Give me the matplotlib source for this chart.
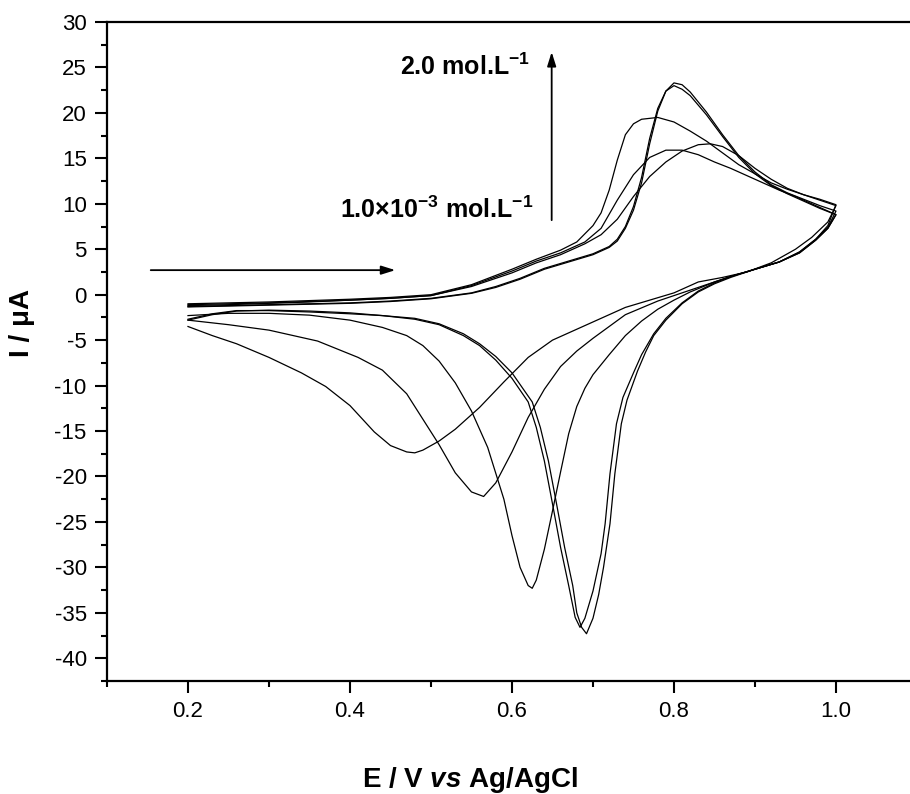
import numpy as np
import matplotlib
matplotlib.use('Agg')
import matplotlib.pyplot as plt
from matplotlib.ticker import FormatStrFormatter

plt.rcParams['font.family'] = ['Liberation Sans', 'DejaVu Sans']
plt.rcParams['mathtext.fontset'] = 'custom'
plt.rcParams['mathtext.rm'] = 'Liberation Sans:bold'
plt.rcParams['mathtext.it'] = 'Liberation Sans:italic:bold'
plt.rcParams['mathtext.bf'] = 'Liberation Sans:bold'
plt.rcParams['axes.unicode_minus'] = False

# curve A (lowest, broad peaks)
a_fwd_E = [0.20, 0.25, 0.30, 0.35, 0.40, 0.45, 0.50, 0.55, 0.60, 0.63, 0.66, 0.69, 0.71, 0.73,
           0.75, 0.77, 0.79, 0.81, 0.83, 0.845, 0.86, 0.88, 0.90, 0.92, 0.94, 0.96, 0.98, 1.00]
a_fwd_I = [-1.1, -1.0, -0.9, -0.75, -0.6, -0.4, -0.1, 0.9, 2.4, 3.5, 4.4, 5.6, 6.6, 8.3,
           10.8, 13.0, 14.6, 15.8, 16.5, 16.6, 16.3, 15.3, 13.9, 12.7, 11.7, 11.0, 10.4, 9.8]
a_rev_E = [1.00, 0.99, 0.97, 0.95, 0.92, 0.89, 0.86, 0.83, 0.80, 0.77, 0.74, 0.71, 0.68, 0.65,
           0.62, 0.59, 0.56, 0.53, 0.51, 0.49, 0.48, 0.47, 0.45, 0.43, 0.40, 0.37, 0.34, 0.30,
           0.26, 0.23, 0.20]
a_rev_I = [9.8, 8.0, 6.3, 5.0, 3.5, 2.5, 1.9, 1.4, 0.2, -0.6, -1.4, -2.6, -3.8, -5.0,
           -6.9, -9.6, -12.4, -14.8, -16.1, -17.1, -17.4, -17.3, -16.6, -15.1, -12.2, -10.1,
           -8.6, -6.9, -5.4, -4.5, -3.5]

# curve B
b_fwd_E = [0.20, 0.25, 0.30, 0.35, 0.40, 0.45, 0.50, 0.55, 0.60, 0.63, 0.66, 0.69, 0.71, 0.73,
           0.75, 0.77, 0.79, 0.81, 0.83, 0.85, 0.87, 0.89, 0.91, 0.93, 0.95, 0.97, 0.99, 1.00]
b_fwd_I = [-1.2, -1.1, -0.95, -0.8, -0.6, -0.4, -0.1, 1.0, 2.6, 3.7, 4.6, 5.8, 7.3, 10.4,
           13.2, 15.1, 15.9, 15.9, 15.4, 14.6, 13.9, 13.1, 12.3, 11.5, 10.8, 10.0, 9.2, 8.8]
b_rev_E = [1.00, 0.99, 0.975, 0.955, 0.93, 0.90, 0.87, 0.85, 0.82, 0.78, 0.74, 0.70, 0.68,
           0.66, 0.64, 0.62, 0.60, 0.58, 0.565, 0.55, 0.53, 0.51, 0.49, 0.47, 0.44, 0.41,
           0.36, 0.30, 0.25, 0.20]
b_rev_I = [8.8, 7.3, 6.0, 4.6, 3.6, 2.8, 2.0, 1.4, 0.5, -0.7, -2.2, -4.8, -6.2,
           -7.9, -10.4, -13.5, -17.3, -20.7, -22.2, -21.7, -19.6, -16.5, -13.7, -10.9, -8.3,
           -6.9, -5.1, -3.9, -3.3, -2.8]

# curve C
c_fwd_E = [0.20, 0.25, 0.30, 0.35, 0.40, 0.45, 0.50, 0.55, 0.60, 0.63, 0.66, 0.68, 0.70, 0.71,
           0.72, 0.73, 0.74, 0.75, 0.76, 0.78, 0.80, 0.82, 0.84, 0.86, 0.88, 0.90, 0.92, 0.94,
           0.96, 0.98, 1.00]
c_fwd_I = [-1.0, -0.9, -0.8, -0.65, -0.5, -0.3, 0.0, 1.1, 2.8, 3.9, 4.9, 5.8, 7.6, 9.0,
           11.5, 14.8, 17.6, 18.8, 19.3, 19.5, 19.0, 18.0, 16.9, 15.6, 14.3, 13.3, 12.3, 11.6,
           11.0, 10.5, 9.9]
c_rev_E = [1.00, 0.99, 0.975, 0.955, 0.93, 0.90, 0.87, 0.85, 0.82, 0.80, 0.78, 0.76, 0.74,
           0.72, 0.70, 0.69, 0.68, 0.67, 0.66, 0.65, 0.64, 0.63, 0.625, 0.62, 0.61, 0.60, 0.59,
           0.57, 0.55, 0.53, 0.51, 0.49, 0.47, 0.44, 0.40, 0.35, 0.30, 0.25, 0.20]
c_rev_I = [9.9, 7.6, 6.1, 4.7, 3.6, 2.8, 2.0, 1.4, 0.3, -0.6, -1.6, -2.9, -4.5,
           -6.6, -8.8, -10.3, -12.3, -15.3, -19.5, -23.8, -28.0, -31.4, -32.3, -32.0, -30.0,
           -26.5, -22.5, -16.8, -12.8, -9.7, -7.3, -5.6, -4.5, -3.6, -2.8, -2.25, -2.05, -2.05,
           -2.3]

# curve D
d_fwd_E = [0.20, 0.25, 0.30, 0.35, 0.40, 0.45, 0.50, 0.55, 0.58, 0.61, 0.64, 0.67, 0.70, 0.72,
           0.73, 0.74, 0.75, 0.76, 0.77, 0.78, 0.79, 0.80, 0.81, 0.82, 0.84, 0.86, 0.88, 0.90,
           0.92, 0.94, 0.96, 0.98, 1.00]
d_fwd_I = [-1.3, -1.2, -1.1, -1.0, -0.9, -0.7, -0.4, 0.2, 0.9, 1.8, 2.9, 3.7, 4.5, 5.3,
           6.1, 7.5, 9.7, 12.9, 17.2, 20.5, 22.4, 23.0, 22.6, 21.9, 19.8, 17.4, 15.1, 13.3,
           12.0, 11.1, 10.3, 9.5, 8.8]
d_rev_E = [1.00, 0.99, 0.975, 0.955, 0.93, 0.90, 0.87, 0.85, 0.83, 0.81, 0.79, 0.775, 0.76,
           0.75, 0.737, 0.729, 0.721, 0.715, 0.71, 0.70, 0.69, 0.684, 0.678, 0.67, 0.66, 0.65,
           0.64, 0.63, 0.62, 0.60, 0.58, 0.56, 0.54, 0.51, 0.48, 0.44, 0.40, 0.35, 0.30, 0.26,
           0.23, 0.20]
d_rev_I = [8.8, 7.3, 6.0, 4.6, 3.6, 2.8, 2.0, 1.3, 0.4, -0.9, -2.6, -4.3, -6.6,
           -8.6, -11.3, -14.2, -19.7, -25.2, -28.5, -32.6, -35.6, -36.6, -35.5, -32.0, -27.8,
           -23.0, -18.3, -14.6, -11.8, -9.2, -7.2, -5.6, -4.5, -3.3, -2.7, -2.3, -2.1, -1.9,
           -1.75, -1.75, -2.1, -2.7]

# curve E (highest)
e_fwd_E = [0.20, 0.25, 0.30, 0.35, 0.40, 0.45, 0.50, 0.55, 0.58, 0.61, 0.64, 0.67, 0.70, 0.72,
           0.73, 0.74, 0.75, 0.76, 0.77, 0.78, 0.79, 0.80, 0.81, 0.82, 0.84, 0.86, 0.88, 0.90,
           0.92, 0.94, 0.96, 0.98, 1.00]
e_fwd_I = [-1.35, -1.25, -1.15, -1.05, -0.95, -0.75, -0.45, 0.15, 0.8, 1.7, 2.8, 3.6, 4.4, 5.2,
           5.9, 7.3, 9.3, 12.3, 16.6, 20.2, 22.4, 23.3, 23.1, 22.3, 20.1, 17.6, 15.3, 13.5,
           12.1, 11.2, 10.5, 9.8, 9.2]
e_rev_E = [1.00, 0.99, 0.975, 0.955, 0.93, 0.90, 0.87, 0.85, 0.83, 0.81, 0.79, 0.775, 0.765,
           0.755, 0.742, 0.735, 0.727, 0.721, 0.713, 0.707, 0.70, 0.692, 0.686, 0.68, 0.675,
           0.665, 0.655, 0.645, 0.635, 0.625, 0.60, 0.58, 0.56, 0.54, 0.51, 0.48, 0.44, 0.40,
           0.35, 0.30, 0.26, 0.23, 0.20]
e_rev_I = [9.2, 7.4, 6.1, 4.7, 3.6, 2.8, 1.9, 1.2, 0.3, -1.0, -2.8, -4.5, -6.3,
           -8.4, -11.6, -14.2, -19.7, -25.2, -30.0, -33.0, -35.6, -37.3, -36.6, -35.0, -32.0,
           -27.8, -23.0, -18.3, -14.6, -11.8, -8.6, -6.8, -5.4, -4.3, -3.2, -2.6, -2.3, -2.0,
           -1.8, -1.7, -1.8, -2.2, -2.8]

curves = [
    (a_fwd_E, a_fwd_I, a_rev_E, a_rev_I),
    (b_fwd_E, b_fwd_I, b_rev_E, b_rev_I),
    (c_fwd_E, c_fwd_I, c_rev_E, c_rev_I),
    (d_fwd_E, d_fwd_I, d_rev_E, d_rev_I),
    (e_fwd_E, e_fwd_I, e_rev_E, e_rev_I),
]

x_major = [0.2, 0.4, 0.6, 0.8, 1.0]
x_minor = [0.1, 0.3, 0.5, 0.7, 0.9]
y_major = list(range(-40, 31, 5))
y_minor = list(np.arange(-42.5, 30, 5))

fig = plt.figure(figsize=(9.1, 7.94), dpi=100)
ax = fig.add_axes([107 / 910, 1 - 681 / 794, 803 / 910, 659 / 794])

for fE, fI, rE, rI in curves:
    ax.plot(fE + rE, fI + rI, color='black', lw=0.9)

ax.set_xlim(0.1, 1.0914)
ax.set_ylim(-42.5, 30)

ax.spines['right'].set_visible(False)
for s in ['left', 'bottom', 'top']:
    ax.spines[s].set_linewidth(1.6)

ax.set_xticks(x_major)
ax.set_xticks(x_minor, minor=True)
ax.set_yticks(y_major)
ax.set_yticks(y_minor, minor=True)
ax.xaxis.set_major_formatter(FormatStrFormatter('%.1f'))
ax.tick_params(which='major', direction='out', length=8.6, width=1.5, labelsize=16, pad=6)
ax.tick_params(which='minor', direction='out', length=4.3, width=1.5)
ax.tick_params(which='both', top=False, right=False)

ax.set_xlabel(r'E / V $\mathit{vs}$ Ag/AgCl', fontsize=20, fontweight='bold')
ax.xaxis.set_label_coords(0.452, -0.127)
ax.set_ylabel('I / μA', fontsize=20, fontweight='bold')
ax.yaxis.set_label_coords(-0.09, 0.543)

ax.text(0.462, 24.16, r'2.0 mol.L$^{-1}$', fontsize=18, fontweight='bold', va='baseline')
ax.text(0.388, 8.41, r'1.0×10$^{-3}$ mol.L$^{-1}$', fontsize=18, fontweight='bold',
        va='baseline')

arrow = dict(arrowstyle='-|>,head_length=0.7,head_width=0.22', color='black', lw=1.3,
             mutation_scale=12, shrinkA=0, shrinkB=0)
ax.annotate('', xy=(0.456, 2.7), xytext=(0.154, 2.7), arrowprops=arrow)
ax.annotate('', xy=(0.649, 26.7), xytext=(0.649, 8.2), arrowprops=arrow)

fig.savefig('out.png', dpi=100)
